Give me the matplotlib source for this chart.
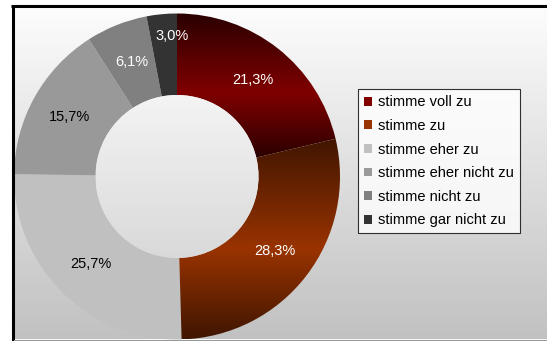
import numpy as np
import matplotlib
matplotlib.use("Agg")
import matplotlib.pyplot as plt
from matplotlib.colors import LinearSegmentedColormap, to_rgb
from matplotlib.patches import Patch, Circle

plt.rcParams["font.family"] = ["Liberation Sans", "DejaVu Sans"]

# Survey answers and their shares (percent)
categories = ["stimme voll zu", "stimme zu", "stimme eher zu",
              "stimme eher nicht zu", "stimme nicht zu", "stimme gar nicht zu"]
shares = [21.3, 28.3, 25.7, 15.7, 6.1, 3.0]

# Slice colours; the two agreeing answers get a shaded fill
slice_colors = ["#800000", "#993300", "#c0c0c0", "#999999", "#808080", "#333333"]
shade_dark = {0: "#2a0000", 1: "#401500"}

W, H = 547, 341
fig = plt.figure(figsize=(W / 100, H / 100), dpi=100)
ax = fig.add_axes([0, 0, 1, 1])
ax.set_axis_off()

# Chart area background: light at the top, grey at the bottom
bg = np.linspace(0, 1, 256).reshape(-1, 1)
bg_cmap = LinearSegmentedColormap.from_list("bg", ["#fdfdfd", "#c1c1c1"])
ax.imshow(bg, extent=[13, W, H - 339.5, H - 6], origin="upper", cmap=bg_cmap,
          aspect="auto", zorder=0, interpolation="bilinear")

cx, cy = 177, H - 176.5
R, r_in = 163, 81.5

wedges, _ = ax.pie(shares, colors=slice_colors, startangle=90, counterclock=False,
                   radius=R, center=(cx, cy), frame=True,
                   wedgeprops=dict(width=R - r_in, linewidth=0, zorder=2))

# Vertical dark-bright-dark shading inside the first two slices
grad = np.linspace(0, 1, 512).reshape(-1, 1)
for i, dark in shade_dark.items():
    w = wedges[i]
    ext = w.get_path().get_extents()
    cmap = LinearSegmentedColormap.from_list(
        f"shade{i}", [(0, dark), (0.55, slice_colors[i]), (1, dark)])
    im = ax.imshow(grad, extent=[ext.x0, ext.x1, ext.y0, ext.y1], origin="upper",
                   cmap=cmap, aspect="auto", zorder=2.5, interpolation="bilinear")
    im.set_clip_path(w)
    w.set_facecolor("none")

# Donut hole with its own soft gradient
hole = Circle((cx, cy), r_in, facecolor="none", edgecolor="none", zorder=3)
ax.add_patch(hole)
hole_cmap = LinearSegmentedColormap.from_list("hole", ["#f4f4f4", "#d9d9d9"])
him = ax.imshow(bg, extent=[cx - r_in, cx + r_in, cy - r_in, cy + r_in], origin="upper",
                cmap=hole_cmap, aspect="auto", zorder=3, interpolation="bilinear")
him.set_clip_path(hole)

# Percentage labels
for w, v, c in zip(wedges, shares, slice_colors):
    mid = np.deg2rad((w.theta1 + w.theta2) / 2)
    d = 141 if v < 5 else 123
    rgb = to_rgb(c)
    lum = 0.299 * rgb[0] + 0.587 * rgb[1] + 0.114 * rgb[2]
    x = cx + d * np.cos(mid)
    if v < 5:
        x = (x + cx) / 2 + 2
    ax.text(x, cy + d * np.sin(mid),
            f"{v:.1f}%".replace(".", ","), ha="center", va="center",
            fontsize=10.5, color="white" if lum < 0.55 else "black", zorder=5)

# Frame lines of the chart area
ax.plot([12.5, 12.5], [0, H - 4.5], color="black", lw=2.2, solid_capstyle="butt", zorder=6)
ax.plot([11, W], [H - 5.8, H - 5.8], color="black", lw=2.2, solid_capstyle="butt", zorder=6)
ax.plot([14, W], [H - 339.7, H - 339.7], color="#999999", lw=0.8, zorder=6)

handles = [Patch(facecolor=c, edgecolor="none") for c in slice_colors]
leg = ax.legend(handles, categories, loc="upper left",
                bbox_to_anchor=(358 / W, 1 - 89.5 / H), bbox_transform=fig.transFigure,
                fontsize=10.5, frameon=True, fancybox=False, borderaxespad=0,
                borderpad=0.4, handlelength=0.55, handleheight=0.55,
                handletextpad=0.42, labelspacing=0.66)
frame = leg.get_frame()
frame.set_facecolor((1, 1, 1, 0))
frame.set_edgecolor("black")
frame.set_linewidth(0.8)
leg.set_zorder(7)

ax.set_xlim(0, W)
ax.set_ylim(0, H)
ax.set_aspect("auto")

fig.savefig("out.png", dpi=100, facecolor="white")
